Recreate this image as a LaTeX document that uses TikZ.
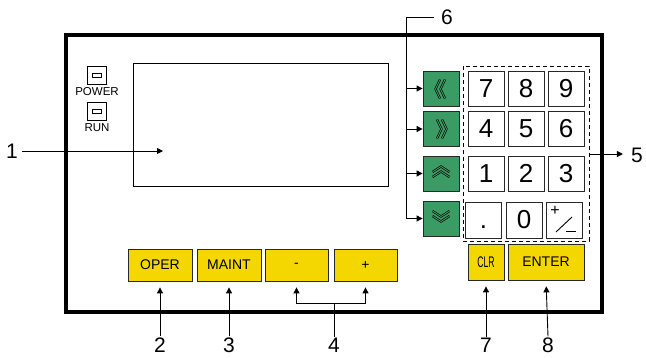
\documentclass[tikz,border=0pt]{standalone}
\usepackage{fontspec}
\setmainfont{Liberation Sans}
\usetikzlibrary{arrows.meta}
\definecolor{btnyellow}{RGB}{245,215,0}
\definecolor{btngreen}{RGB}{58,156,100}
\definecolor{btnedge}{RGB}{40,40,40}
\tikzset{
  thin line/.style={line width=0.8pt},
  arr/.style={line width=0.9pt,-{Triangle[length=6pt,width=6pt]}},
  numkey/.style={draw=btnedge,line width=0.8pt,fill=white,minimum width=36pt,minimum height=35pt,inner sep=0pt,font=\fontsize{26}{26}\selectfont},
  greenkey/.style={draw=btnedge,line width=0.8pt,fill=btngreen,minimum width=36pt,minimum height=35pt,inner sep=0pt},
  yellowkey/.style={draw=btnedge,line width=0.8pt,fill=btnyellow,inner sep=0pt,font=\fontsize{14}{14}\selectfont},
  callout/.style={inner sep=1pt,font=\fontsize{21}{21}\selectfont},
  ledlabel/.style={inner sep=0pt,font=\fontsize{11.5}{11.5}\selectfont},
  chev/.style={double=btngreen,draw=black,line width=0.65pt,double distance=0.9pt},
}
\begin{document}
\begin{tikzpicture}[x=1pt,y=-1pt]
\useasboundingbox (0,0) rectangle (646,358);
% frame
\draw[line width=3.5pt] (66,35) rectangle (602,312);
% screen
\draw[thin line] (133,63) rectangle (388,186);
% LEDs
\draw[thin line] (87,66) rectangle (106,84);
\draw[thin line] (92,73) rectangle (101,77.5);
\node[ledlabel] (power) at (97,92) {POWER};
\draw[thin line] (87,102) rectangle (106,120);
\draw[thin line] (92,109) rectangle (101,113.5);
\node[ledlabel] (run) at (97,128) {RUN};
% green keys
\node[greenkey] (g1) at (441,88.5) {};
\node[greenkey] (g2) at (441,129) {};
\node[greenkey] (g3) at (441,173.5) {};
\node[greenkey] (g4) at (441,218.5) {};
\draw[chev] (440,79.5) -- (435.5,89) -- (440,98.5);
\draw[chev] (445,79.5) -- (440.5,89) -- (445,98.5);
\draw[chev] (437,119.5) -- (441.5,129) -- (437,138.5);
\draw[chev] (442,119.5) -- (446.5,129) -- (442,138.5);
\draw[chev] (432.5,172) -- (441,166.5) -- (449.5,172);
\draw[chev] (432.5,177) -- (441,171.5) -- (449.5,177);
\draw[chev] (432.5,211) -- (441,216.5) -- (449.5,211);
\draw[chev] (432.5,216) -- (441,221.5) -- (449.5,216);
% numeric keys
\node[numkey] (k7) at (486,88.5) {7};
\node[numkey] (k8) at (526,88.5) {8};
\node[numkey] (k9) at (566,88.5) {9};
\node[numkey] (k4) at (486,129) {4};
\node[numkey] (k5) at (526,129) {5};
\node[numkey] (k6) at (566,129) {6};
\node[numkey] (k1) at (486,173.5) {1};
\node[numkey] (k2) at (526,173.5) {2};
\node[numkey] (k3) at (566,173.5) {3};
\node[numkey,minimum height=36pt] (kdot) at (483.5,220) {.\vphantom{0}};
\node[numkey,minimum height=36pt] (k0) at (524,220) {0};
\node[numkey,minimum height=36pt] (kpm) at (564,220) {};
\node[inner sep=0pt,font=\fontsize{16}{16}\selectfont] (kplus) at (555,211) {+};
\draw[line width=0.9pt] (556,232) -- (572,217);
\draw[line width=0.9pt] (566,231.5) -- (576,231.5);
% dashed keypad outline
\draw[thin line,dash pattern=on 4pt off 3pt] (463,66) rectangle (589,241);
\coordinate (padE) at (589,154);
% yellow keys
\node[yellowkey,minimum width=36pt,minimum height=36pt] (clr) at (486,262) {\scalebox{0.62}[1.1]{CLR}};
\node[yellowkey,minimum width=76pt,minimum height=36pt] (enter) at (546,262) {ENTER};
\node[yellowkey,minimum width=64pt,minimum height=32pt] (oper) at (160,265) {OPER};
\node[yellowkey,minimum width=64pt,minimum height=32pt] (maint) at (229,265) {MAINT};
\node[yellowkey,minimum width=63pt,minimum height=32pt] (minus) at (296.5,265) {-};
\node[yellowkey,minimum width=63pt,minimum height=32pt] (plus) at (365.5,265) {+};
% callout labels
\node[callout] (l1) at (12,151) {1};
\node[callout] (l2) at (160,345) {2};
\node[callout] (l3) at (229,345) {3};
\node[callout] (l4) at (334,345) {4};
\node[callout] (l5) at (637,155) {5};
\node[callout] (l6) at (447,17) {6};
\node[callout] (l7) at (486,345) {7};
\node[callout] (l8) at (548,345) {8};
% connectors
\coordinate (p1) at (163,151);
\draw[arr] (l1.east) ++(3,0) -- (p1);
\draw[arr,shorten >=6pt] (l2.north) -- (oper.south);
\draw[arr,shorten >=6pt] (l3.north) -- (maint.south);
\coordinate (j4) at (334,303);
\draw[line width=0.9pt] (l4.north) -- (j4);
\draw[arr,shorten >=6pt] (j4) -| (minus.south);
\draw[arr,shorten >=6pt] (j4) -| (plus.south);
\draw[arr,shorten >=6pt] (l7.north) -- (clr.south);
\draw[arr,shorten >=6pt] (l8.north) -- (enter.south);
\draw[arr,shorten >=7pt] (padE) -- (l5.west |- padE);
\coordinate (t6) at (406,17);
\draw[line width=0.9pt,shorten <=6pt] (l6.west) -- (t6);
\draw[arr] (t6) |- (g4.west);
\draw[arr] (t6 |- g1.west) -- (g1.west);
\draw[arr] (t6 |- g2.west) -- (g2.west);
\draw[arr] (t6 |- g3.west) -- (g3.west);
\end{tikzpicture}
\end{document}
